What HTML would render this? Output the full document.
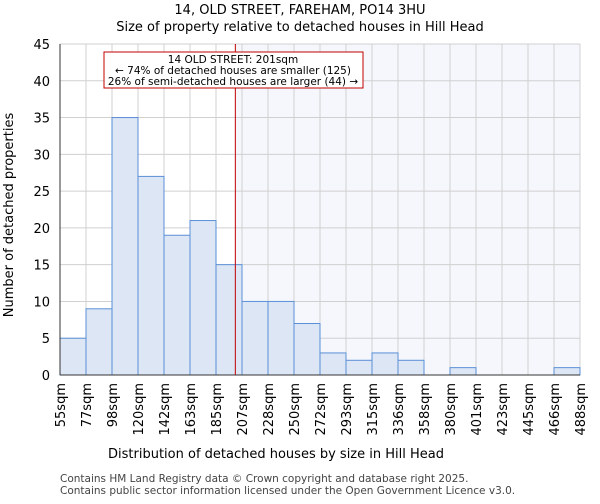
<!DOCTYPE html>
<html><head><meta charset="utf-8"><style>body{margin:0;background:#fff;font-family:"DejaVu Sans","Liberation Sans",sans-serif}</style></head>
<body>
<svg id="c" width="600" height="500" xmlns="http://www.w3.org/2000/svg" font-family="DejaVu Sans, Liberation Sans, sans-serif"></svg>
<script>
const categories=["55sqm","77sqm","98sqm","120sqm","142sqm","163sqm","185sqm","207sqm","228sqm","250sqm","272sqm","293sqm","315sqm","336sqm","358sqm","380sqm","401sqm","423sqm","445sqm","466sqm","488sqm"];
const counts=[5,9,35,27,19,21,15,10,10,7,3,2,3,2,0,1,0,0,0,1];
const yTicks=[0,5,10,15,20,25,30,35,40,45];
const binStart=55, binEnd=488, propSize=201;
const svg=document.getElementById('c');
const NS='http://www.w3.org/2000/svg';
const L=60,R=580,T=44,B=375;
const x=v=>L+(v-binStart)/(binEnd-binStart)*(R-L);
const xi=i=>L+i*(R-L)/counts.length;
const y=v=>B-v/45*(B-T);
function el(t,a,txt){const e=document.createElementNS(NS,t);for(const k in a)e.setAttribute(k,a[k]);if(txt!=null)e.textContent=txt;svg.appendChild(e);return e;}
let e;
e=el('rect',{x:x(propSize),y:T,width:R-x(propSize),height:B-T,fill:'#f5f7fd'});

for(let i=0;i<=counts.length;i++){e=el('line',{x1:xi(i),x2:xi(i),y1:T,y2:B,stroke:'#d0d0d0'});}
yTicks.forEach(t=>{e=el('line',{x1:L,x2:R,y1:y(t),y2:y(t),stroke:'#d0d0d0'});
e=el('text',{x:L-10,y:y(t)+5,'text-anchor':'end','font-size':13},t);});
counts.forEach((c,i)=>{if(c>0){e=el('rect',{x:xi(i),y:y(c),width:xi(i+1)-xi(i),height:B-y(c),fill:'#dce6f5',stroke:'#5b8fd6','stroke-width':1});}});
categories.forEach((c,i)=>{const px=xi(i);e=el('text',{x:0,y:0,'text-anchor':'end','font-size':13,transform:`translate(${px+5},${B+8}) rotate(-90)`},c);});
e=el('line',{x1:L,x2:R,y1:B,y2:B,stroke:'#333'});
e=el('line',{x1:L,x2:L,y1:T,y2:B,stroke:'#333'});
e=el('line',{x1:x(propSize),x2:x(propSize),y1:T,y2:B,stroke:'#c00000','stroke-width':1});
e=el('rect',{x:104,y:52,width:259,height:36,fill:'#fff',stroke:'#c00000'});
[["14 OLD STREET: 201sqm",63],["← 74% of detached houses are smaller (125)",74],["26% of semi-detached houses are larger (44) →",85]].forEach(a=>{e=el('text',{x:233,y:a[1],'text-anchor':'middle','font-size':10.5},a[0]);});
e=el('text',{x:300,y:14,'text-anchor':'middle','font-size':13},'14, OLD STREET, FAREHAM, PO14 3HU');
e=el('text',{x:300,y:31,'text-anchor':'middle','font-size':13},'Size of property relative to detached houses in Hill Head');
e=el('text',{x:276,y:458,'text-anchor':'middle','font-size':13},'Distribution of detached houses by size in Hill Head');
e=el('text',{x:0,y:0,'text-anchor':'middle','font-size':13,transform:'translate(13,215) rotate(-90)'},'Number of detached properties');
e=el('text',{x:60,y:482,'font-size':10.5,fill:'#444'},'Contains HM Land Registry data © Crown copyright and database right 2025.');
e=el('text',{x:60,y:494,'font-size':10.5,fill:'#444'},'Contains public sector information licensed under the Open Government Licence v3.0.');
</script>
</body></html>
